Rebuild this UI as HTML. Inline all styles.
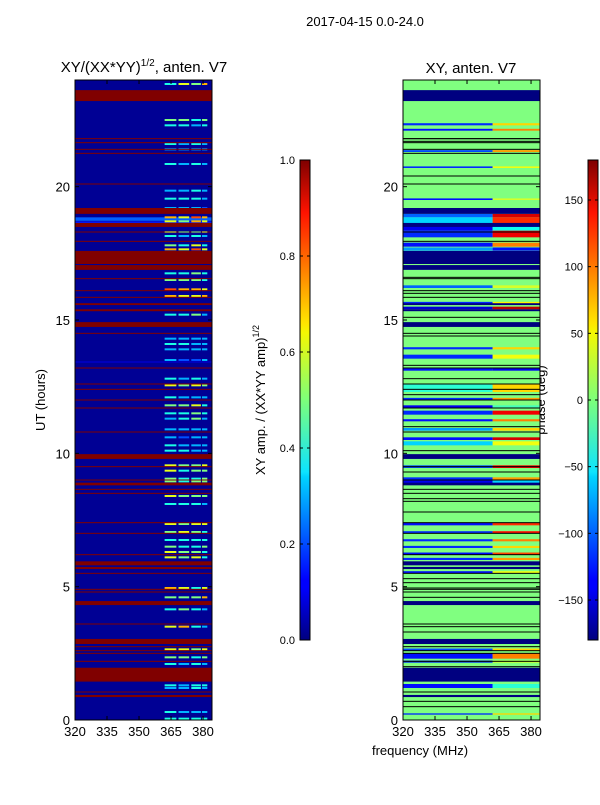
<!DOCTYPE html>
<html><head><meta charset="utf-8">
<style>
body{margin:0;background:#fff;width:600px;height:800px;overflow:hidden;font-family:"Liberation Sans","DejaVu Sans",sans-serif;}
svg text{font-family:"Liberation Sans","DejaVu Sans",sans-serif;fill:#000;}
</style></head>
<body>
<svg id="fig" width="600" height="800" xmlns="http://www.w3.org/2000/svg">
<defs>
<linearGradient id="jetv" x1="0" y1="1" x2="0" y2="0">
<stop offset="0" stop-color="#00007f"/><stop offset="0.11" stop-color="#0000ff"/><stop offset="0.125" stop-color="#0000ff"/>
<stop offset="0.34" stop-color="#00d4ff"/><stop offset="0.35" stop-color="#0de4ff"/><stop offset="0.5" stop-color="#7dff7a"/>
<stop offset="0.64" stop-color="#f4f802"/><stop offset="0.66" stop-color="#ffe600"/><stop offset="0.89" stop-color="#ff1300"/><stop offset="1" stop-color="#7f0000"/>
</linearGradient>
</defs>
<text x="365" y="26" font-size="13" text-anchor="middle">2017-04-15 0.0-24.0</text>
<text x="144" y="72" font-size="15" text-anchor="middle">XY/(XX*YY)<tspan dy="-6" font-size="10">1/2</tspan><tspan dy="6">, anten. V7</tspan></text>
<text x="471" y="73" font-size="15" text-anchor="middle">XY, anten. V7</text>
<text transform="translate(45,400) rotate(-90)" font-size="13" text-anchor="middle">UT (hours)</text>
<text x="420" y="755" font-size="13" text-anchor="middle">frequency (MHz)</text>
<text transform="translate(265,400) rotate(-90)" font-size="13" text-anchor="middle">XY amp. / (XX*YY amp)<tspan dy="-6" font-size="9">1/2</tspan></text>
<text transform="translate(545,400) rotate(-90)" font-size="13" text-anchor="middle">phase (deg)</text>
<g id="left"></g>
<g id="right"></g>
<g id="axes"></g>
</svg>
<script>
// ---- data ----
const utTicks = [0,5,10,15,20];
const freqTicks = [320,335,350,365,380];
const ampTicks = [0.0,0.2,0.4,0.6,0.8,1.0];
const phaseTicks = [-150,-100,-50,0,50,100,150];
// saturated (flagged) bands [utStart, utEnd]
const flagBands = [[23.21,23.62],[18.98,19.2],[18.49,18.64],[17.1,17.59],[16.88,17.06],[14.74,14.92],[15.33,15.4],[15.56,15.63],[9.79,9.97],[8.8,8.9],[5.8,5.95],[5.66,5.74],[4.31,4.46],[2.85,3.04],[1.44,1.96],[0.86,0.94]];
const flagLines = [21.8,21.65,21.25,20.1,17.95,16.55,16.1,15.85,14.5,13.2,12.6,12.4,12.0,11.7,10.8,9.5,9.0,8.65,8.5,7.4,7.0,6.2,5.5,4.9,4.8,3.6,2.75,2.6,2.5,2.2,1.05,21.4,18.3];
// wide full-band amplitude feature [ut0, ut1, value]
const ampWide = [[18.72,18.85,0.22],[18.6,18.7,0.15],[13.4,13.45,0.08]];
// speckle rows in 362-382 MHz: [ut, v1, v2, v3, v4]
const ampRows = [[23.85,0.4,0.6,0.5,0.7],[22.5,0.5,0.5,0.4,0.5],[22.3,0.4,0.4,0.3,0.4],[21.6,0.4,0.3,0.4,0.3],[21.4,0.3,0.3,0.3,0.3],[20.85,0.4,0.3,0.4,0.3],[19.85,0.3,0.3,0.4,0.3],[19.55,0.4,0.4,0.4,0.3],[19.2,0.3,0.3,0.3,0.2],[18.85,0.7,0.6,0.8,0.7],[18.7,0.6,0.5,0.7,0.6],[18.55,0.5,0.4,0.6,0.5],[18.3,0.5,0.4,0.4,0.5],[18.15,0.4,0.3,0.4,0.3],[17.8,0.5,0.4,0.6,0.4],[17.65,0.7,0.6,0.8,0.6],[16.75,0.4,0.4,0.5,0.4],[16.5,0.5,0.5,0.5,0.4],[16.15,0.8,0.7,0.7,0.6],[15.9,0.7,0.6,0.6,0.7],[15.2,0.4,0.4,0.5,0.3],[14.3,0.3,0.3,0.3,0.3],[14.1,0.4,0.4,0.3,0.3],[13.9,0.3,0.3,0.3,0.3],[13.5,0.3,0.2,0.2,0.3],[12.8,0.4,0.3,0.4,0.3],[12.55,0.6,0.5,0.6,0.5],[12.1,0.4,0.3,0.3,0.3],[11.8,0.5,0.5,0.6,0.4],[11.5,0.4,0.4,0.5,0.4],[11.3,0.3,0.4,0.5,0.3],[10.9,0.3,0.3,0.3,0.3],[10.6,0.3,0.2,0.3,0.3],[10.3,0.4,0.3,0.3,0.3],[10.1,0.4,0.4,0.3,0.3],[9.55,0.6,0.5,0.5,0.6],[9.35,0.6,0.4,0.5,0.5],[9.05,0.5,0.4,0.4,0.5],[8.95,0.5,0.4,0.5,0.5],[8.4,0.6,0.5,0.5,0.5],[8.1,0.4,0.4,0.4,0.3],[7.35,0.6,0.5,0.6,0.6],[7.05,0.5,0.6,0.5,0.4],[6.75,0.4,0.4,0.4,0.4],[6.5,0.5,0.4,0.4,0.5],[6.3,0.6,0.5,0.5,0.4],[6.1,0.6,0.5,0.6,0.4],[4.95,0.7,0.6,0.4,0.6],[4.6,0.5,0.5,0.5,0.7],[4.15,0.4,0.5,0.4,0.3],[3.5,0.6,0.7,0.4,0.3],[2.65,0.6,0.6,0.5,0.6],[2.35,0.5,0.5,0.4,0.5],[2.1,0.4,0.3,0.4,0.3],[1.3,0.4,0.3,0.4,0.4],[1.2,0.3,0.3,0.4,0.3],[0.3,0.4,0.3,0.3,0.3],[0.05,0.4,0.4,0.4,0.4]];
// phase bands: [ut0, ut1, phase left part, phase right part (362-382)]
const phaseBands = [[22.3,22.38,-120,60],[22.1,22.17,-130,90],[21.3,21.37,-110,80],[20.7,20.76,-120,40],[19.5,19.56,-130,30],[18.85,18.98,-100,150],[18.55,18.85,-60,120],[18.35,18.55,-140,-40],[18.1,18.35,-120,140],[17.75,17.9,-130,90],[17.6,17.72,-80,-130],[16.2,16.3,-100,30],[15.6,15.68,-120,50],[15.4,15.5,-150,160],[13.9,13.98,-120,60],[13.55,13.7,-120,40],[13.1,13.18,-130,-140],[12.3,12.6,-30,60],[12.0,12.08,-120,80],[11.7,11.8,-140,-20],[11.45,11.6,-120,140],[11.2,11.28,-130,90],[10.85,10.95,-80,60],[10.5,10.6,-130,150],[10.3,10.45,-60,40],[9.45,9.55,-110,140],[9.0,9.1,-120,80],[8.85,8.98,-140,-60],[7.3,7.4,-130,120],[7.0,7.08,-120,130],[6.7,6.78,-120,90],[6.45,6.53,-120,60],[6.2,6.28,-130,110],[6.0,6.08,-120,80],[5.5,5.58,-130,40],[2.6,2.68,-110,60],[2.3,2.5,-130,90],[2.15,2.23,-120,30],[1.2,1.35,-130,-30],[0.2,0.25,-120,60]];
const phaseLines = [21.8,21.7,20.4,17.0,16.6,16.0,15.1,14.4,13.3,12.8,12.2,11.0,10.1,9.3,8.3,8.2,7.8,5.3,5.15,4.95,4.6,3.5,3.3,2.0,0.7,0.5];

// ---- helpers ----
function jet(v){v=Math.max(0,Math.min(1,v));
 const r=Math.min(4*v-1.5,-4*v+4.5),g=Math.min(4*v-0.5,-4*v+3.5),b=Math.min(4*v+0.5,-4*v+2.5);
 const c=x=>Math.round(255*Math.max(0,Math.min(1,x)));return `rgb(${c(r)},${c(g)},${c(b)})`;}
const NS="http://www.w3.org/2000/svg";
const PT=80,PB=720;
const yUT=u=>PB-(PB-PT)*u/24;
const fLo=320,fHi=384.2;
function xF(panelX,f){return panelX+(f-fLo)*(137/(fHi-fLo));}
function el(tag,attrs,parent){const e=document.createElementNS(NS,tag);for(const k in attrs)e.setAttribute(k,attrs[k]);parent.appendChild(e);return e;}
const segs=[[362,367.5],[368.5,373.5],[374.5,379],[379.5,382]];

// ---- left panel ----
const L=document.getElementById('left');const LX=75;
el('rect',{x:LX,y:PT,width:137,height:PB-PT,fill:jet(0.02)},L);
ampWide.forEach(b=>{const r=el('rect',{x:LX,y:yUT(b[1]),width:137,height:yUT(b[0])-yUT(b[1]),fill:jet(b[2])},L);

});
ampRows.forEach(row=>{for(let i=0;i<4;i++){const r=el('rect',{x:xF(LX,segs[i][0]),y:yUT(row[0])-1,width:xF(LX,segs[i][1])-xF(LX,segs[i][0]),height:2,fill:jet(row[i+1])},L);

}});
flagBands.forEach(b=>{const r=el('rect',{x:LX,y:yUT(b[1]),width:137,height:yUT(b[0])-yUT(b[1]),fill:jet(1)},L);

});
flagLines.forEach(u=>{const r=el('rect',{x:LX,y:yUT(u)-0.5,width:137,height:1,fill:jet(1)},L);

});

// ---- right panel ----
const R=document.getElementById('right');const RX=403;
const ph=p=>jet((p+180)/360);
el('rect',{x:RX,y:PT,width:137,height:PB-PT,fill:ph(0)},R);
phaseBands.forEach(b=>{const y0=yUT(b[1]),h=yUT(b[0])-yUT(b[1]);
const a=el('rect',{x:RX,y:y0,width:xF(RX,362)-RX,height:h,fill:ph(b[2])},R);


const c=el('rect',{x:xF(RX,362),y:y0,width:RX+137-xF(RX,362),height:h,fill:ph(b[3])},R);

});
phaseLines.forEach(u=>{const r=el('rect',{x:RX,y:yUT(u)-0.5,width:137,height:1,fill:'#000'},R);

});
flagBands.forEach(b=>{const r=el('rect',{x:RX,y:yUT(b[1]),width:137,height:yUT(b[0])-yUT(b[1]),fill:jet(0)},R);

});
flagLines.forEach(u=>{const r=el('rect',{x:RX,y:yUT(u)-0.5,width:137,height:1,fill:'#000'},R);

});

// ---- axes ----
const A=document.getElementById('axes');
[LX,RX].forEach((px,pi)=>{
 el('rect',{x:px,y:PT,width:137,height:PB-PT,fill:'none',stroke:'#000','stroke-width':1},A);
 utTicks.forEach(u=>{const y=yUT(u);
  el('line',{x1:px,x2:px+4,y1:y,y2:y,stroke:'#000'},A);el('line',{x1:px+133,x2:px+137,y1:y,y2:y,stroke:'#000'},A);
  const t=el('text',{x:px-5,y:y+5,'font-size':13,'text-anchor':'end'},A);t.textContent=u;
  
  });
 freqTicks.forEach(f=>{const x=xF(px,f);
  el('line',{x1:x,x2:x,y1:PB,y2:PB-4,stroke:'#000'},A);el('line',{x1:x,x2:x,y1:PT,y2:PT+4,stroke:'#000'},A);
  const t=el('text',{x:x,y:PB+16,'font-size':13,'text-anchor':'middle'},A);t.textContent=f;
  
  });
});
// colorbars
const CB=[[300,ampTicks,v=>v,0,1,v=>v.toFixed(1)],[588,phaseTicks,v=>v,-180,180,v=>v<0?'\u2212'+(-v):''+v]];
CB.forEach((c,i)=>{const [cx,ticks,,lo,hi,fmt]=c;
 const r=el('rect',{x:cx,y:160,width:10,height:480,fill:'url(#jetv)',stroke:'#000','stroke-width':1},A);
 
 
 ticks.forEach(v=>{const y=640-480*(v-lo)/(hi-lo);
  el('line',{x1:cx,x2:cx+3,y1:y,y2:y,stroke:'#000'},A);el('line',{x1:cx+7,x2:cx+10,y1:y,y2:y,stroke:'#000'},A);
  const t=el('text',{x:cx-5,y:y+4,'font-size':11,'text-anchor':'end'},A);t.textContent=fmt(v);
  
  });
});
</script>
</body></html>
